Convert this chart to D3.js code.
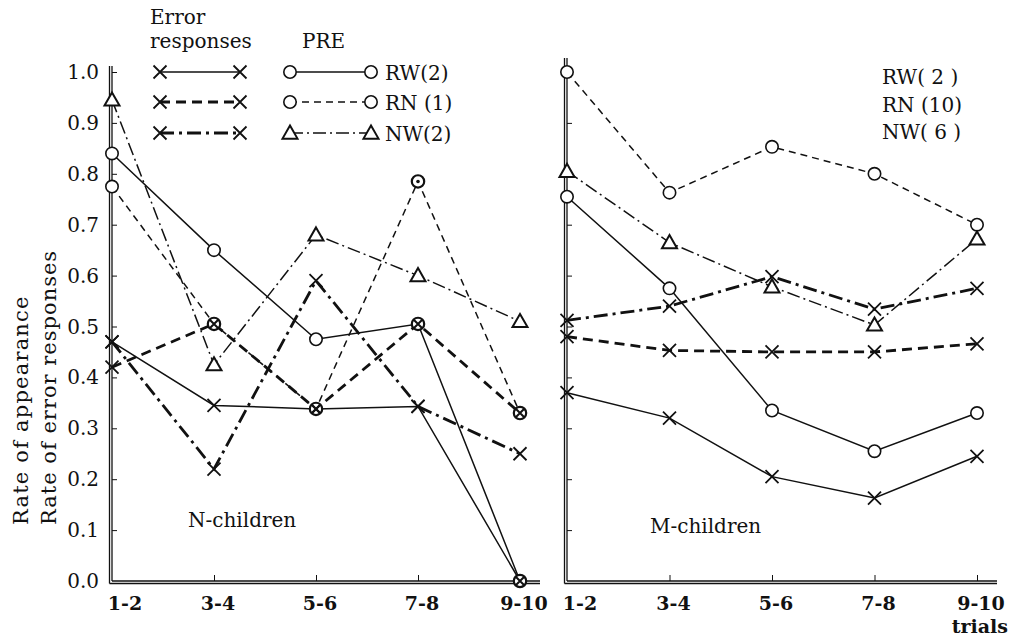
<!DOCTYPE html>
<html>
<head>
<meta charset="utf-8">
<script src="https://cdn.jsdelivr.net/npm/d3@7"></script>
<style>
  body { margin: 0; background: #fff; }
  text { font-family: "DejaVu Serif", "Liberation Serif", serif; fill: #111; }
</style>
</head>
<body>
<div id="chart"></div>
<script>
// trial blocks on the x axis
var categories = ["1-2", "3-4", "5-6", "7-8", "9-10"];
var yTicks = [0, 0.1, 0.2, 0.3, 0.4, 0.5, 0.6, 0.7, 0.8, 0.9, 1.0];

// N-children
var nPreRW = [0.84, 0.65, 0.475, 0.505, 0.0];
var nPreRN = [0.775, 0.505, 0.338, 0.785, 0.33];
var nPreNW = [0.945, 0.425, 0.68, 0.60, 0.51];
var nErrRW = [0.47, 0.345, 0.338, 0.343, 0.0];
var nErrRN = [0.42, 0.505, 0.338, 0.505, 0.33];
var nErrNW = [0.47, 0.22, 0.59, 0.343, 0.25];

// M-children
var mPreRW = [0.755, 0.575, 0.335, 0.255, 0.33];
var mPreRN = [1.0, 0.763, 0.853, 0.80, 0.70];
var mPreNW = [0.805, 0.665, 0.578, 0.503, 0.672];
var mErrRW = [0.37, 0.32, 0.205, 0.163, 0.245];
var mErrRN = [0.48, 0.453, 0.45, 0.45, 0.466];
var mErrNW = [0.512, 0.54, 0.598, 0.534, 0.575];

var legendLeft = ["RW(2)", "RN (1)", "NW(2)"];
var legendRight = ["RW( 2 )", "RN (10)", "NW( 6 )"];

var width = 1014, height = 639;
var ink = "#111";

var svg = d3.select("#chart").append("svg")
    .attr("width", width)
    .attr("height", height);

var y = d3.scaleLinear().domain([0, 1]).range([581, 72]);
var xN = d3.scalePoint().domain(categories).range([112, 520]);
var xM = d3.scalePoint().domain(categories).range([567, 977]);

// line styles: thin for PRE, heavy for error responses
var styles = {
  preRW: {marker: "circle", dash: null, w: 1.5},
  preRN: {marker: "circle", dash: "7,5", w: 1.5},
  preNW: {marker: "tri", dash: "13,4,2,4", w: 1.5},
  errRW: {marker: "cross", dash: null, w: 1.5},
  errRN: {marker: "cross", dash: "10,6", w: 2.8},
  errNW: {marker: "cross", dash: "14,5,3,5", w: 2.8}
};

function drawMarker(g, type, cx, cy, opt) {
  opt = opt || {};
  if (type == "circle") {
    g.append("circle").attr("cx", cx).attr("cy", cy).attr("r", 6.2)
      .attr("fill", "#fff").attr("stroke", ink)
      .attr("stroke-width", opt.heavy ? 2.2 : 1.6);
    if (opt.dot) {
      g.append("circle").attr("cx", cx).attr("cy", cy).attr("r", 1.8).attr("fill", ink);
    }
  } else if (type == "tri") {
    var s = 7.5;
    g.append("path")
      .attr("d", "M" + cx + "," + (cy - s) + "L" + (cx + s) + "," + (cy + s * 0.75) +
                 "L" + (cx - s) + "," + (cy + s * 0.75) + "Z")
      .attr("fill", "#fff").attr("stroke", ink).attr("stroke-width", 2);
  } else {
    var a = opt.small ? 4 : 6.5;
    g.append("path")
      .attr("d", "M" + (cx - a) + "," + (cy - a) + "L" + (cx + a) + "," + (cy + a) +
                 "M" + (cx - a) + "," + (cy + a) + "L" + (cx + a) + "," + (cy - a))
      .attr("fill", "none").attr("stroke", ink).attr("stroke-width", opt.small ? 2 : 1.8);
  }
}

function drawPanel(x, series, dotted, axisTop, axisRight) {
  var g = svg.append("g");
  var x0 = x(categories[0]);

  // ticks pointing into the plot
  g.append("g")
    .attr("transform", "translate(" + x0 + ",0)")
    .call(d3.axisRight(y).tickValues(yTicks.slice(1)).tickSize(5).tickFormat(""))
    .call(function(a) { a.select(".domain").remove(); a.selectAll("line").attr("stroke", ink); });
  g.append("g")
    .attr("transform", "translate(0," + y(0) + ")")
    .call(d3.axisTop(x).tickValues(categories.slice(1)).tickSize(6).tickFormat(""))
    .call(function(a) { a.select(".domain").remove(); a.selectAll("line").attr("stroke", ink); });

  // double axis lines
  [0, 2.5].forEach(function(o) {
    g.append("line").attr("x1", x0 - o).attr("x2", x0 - o)
      .attr("y1", axisTop).attr("y2", y(0) + o)
      .attr("stroke", ink).attr("stroke-width", 1.3);
    g.append("line").attr("x1", x0 - o).attr("x2", axisRight)
      .attr("y1", y(0) + o).attr("y2", y(0) + o)
      .attr("stroke", ink).attr("stroke-width", 1.3);
  });

  var line = d3.line()
    .x(function(d, i) { return x(categories[i]); })
    .y(function(d) { return y(d); });

  series.forEach(function(s) {
    g.append("path").datum(s.values)
      .attr("d", line)
      .attr("fill", "none")
      .attr("stroke", ink)
      .attr("stroke-width", styles[s.key].w)
      .attr("stroke-dasharray", styles[s.key].dash);
  });

  // circles and triangles first, crosses on top; a cross on a circle becomes a crossed circle
  var circles = series.filter(function(s) { return styles[s.key].marker == "circle"; });
  series.forEach(function(s) {
    var m = styles[s.key].marker;
    if (m == "cross") return;
    s.values.forEach(function(v, i) {
      var hit = series.some(function(o) {
        return styles[o.key].marker == "cross" && Math.abs(o.values[i] - v) < 0.012;
      });
      var dot = dotted.some(function(d) { return d[0] == s.key && d[1] == i; });
      drawMarker(g, m, x(categories[i]), y(v), {heavy: hit || dot, dot: dot});
    });
  });
  series.forEach(function(s) {
    if (styles[s.key].marker != "cross") return;
    s.values.forEach(function(v, i) {
      var onCircle = circles.some(function(o) { return Math.abs(o.values[i] - v) < 0.012; });
      drawMarker(g, "cross", x(categories[i]), y(v), {small: onCircle});
    });
  });

  // category labels
  g.selectAll(".xl").data(categories).enter().append("text")
    .attr("x", function(d, i) { return x(d) + (i == 0 ? 13 : 4); })
    .attr("y", 610)
    .attr("text-anchor", "middle")
    .style("font-size", "19px")
    .style("font-weight", "bold")
    .text(function(d) { return d; });
  return g;
}

drawPanel(xN, [
  {key: "preRW", values: nPreRW},
  {key: "preRN", values: nPreRN},
  {key: "preNW", values: nPreNW},
  {key: "errRW", values: nErrRW},
  {key: "errRN", values: nErrRN},
  {key: "errNW", values: nErrNW}
], [["preRN", 3]], 66, 540);

drawPanel(xM, [
  {key: "preRW", values: mPreRW},
  {key: "preRN", values: mPreRN},
  {key: "preNW", values: mPreNW},
  {key: "errRW", values: mErrRW},
  {key: "errRN", values: mErrRN},
  {key: "errNW", values: mErrNW}
], [], 58, 997);

// y tick labels, left panel only
svg.selectAll(".yl").data(yTicks).enter().append("text")
  .attr("x", 99)
  .attr("y", function(d) { return y(d) + 7; })
  .attr("text-anchor", "end")
  .style("font-size", "20px")
  .text(function(d) { return d.toFixed(1); });

// y axis titles
svg.append("text")
  .attr("transform", "translate(28,525) rotate(-90)")
  .style("font-size", "21px").style("letter-spacing", "1.2px")
  .text("Rate of appearance");
svg.append("text")
  .attr("transform", "translate(56,525) rotate(-90)")
  .style("font-size", "21px").style("letter-spacing", "1px")
  .text("Rate of error responses");

svg.append("text").attr("x", 1008).attr("y", 633).attr("text-anchor", "end")
  .style("font-size", "19px").style("font-weight", "bold").text("trials");

svg.append("text").attr("x", 188).attr("y", 527).style("font-size", "20px").text("N-children");
svg.append("text").attr("x", 650).attr("y", 533).style("font-size", "20px").text("M-children");

// legend
svg.append("text").attr("x", 150).attr("y", 24).style("font-size", "20px").text("Error");
svg.append("text").attr("x", 150).attr("y", 48).style("font-size", "20px").text("responses");
svg.append("text").attr("x", 302).attr("y", 48).style("font-size", "20px").text("PRE");

var legendRows = [
  {err: "errRW", pre: "preRW", y: 72},
  {err: "errRN", pre: "preRN", y: 102},
  {err: "errNW", pre: "preNW", y: 133}
];
legendRows.forEach(function(r, i) {
  [[r.err, 160, 240], [r.pre, 290, 371]].forEach(function(p) {
    var st = styles[p[0]];
    svg.append("line").attr("x1", p[1]).attr("x2", p[2]).attr("y1", r.y).attr("y2", r.y)
      .attr("stroke", ink).attr("stroke-width", st.w).attr("stroke-dasharray", st.dash);
    drawMarker(svg, st.marker, p[1], r.y);
    drawMarker(svg, st.marker, p[2], r.y);
  });
  svg.append("text").attr("x", 385).attr("y", r.y + 8).style("font-size", "20px").text(legendLeft[i]);
  svg.append("text").attr("x", 882).attr("y", 84 + i * 27.5).style("font-size", "20px").text(legendRight[i]);
});
</script>
</body>
</html>
